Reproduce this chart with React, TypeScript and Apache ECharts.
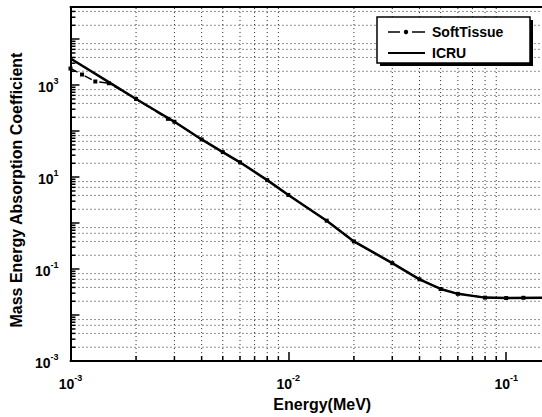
import React, { useEffect, useRef } from "react";
import * as echarts from "echarts";

// ---- data ----
const energyICRU = [0.001, 0.0015, 0.002, 0.003, 0.004, 0.005, 0.006, 0.008, 0.01, 0.015, 0.02, 0.03, 0.04, 0.05, 0.06, 0.08, 0.1, 0.15];
const muICRU = [3800, 1160, 500, 160, 66, 35, 21, 8.6, 4.1, 1.13, 0.4, 0.135, 0.06, 0.037, 0.029, 0.024, 0.0235, 0.024];

const energySoft = [0.001, 0.00113, 0.0013, 0.0015, 0.002, 0.0028, 0.003, 0.004, 0.005, 0.006, 0.008, 0.01, 0.015, 0.02, 0.03, 0.04, 0.05, 0.06, 0.08, 0.1, 0.12, 0.15];
const muSoft = [2300, 1700, 1200, 1100, 500, 185, 160, 66, 35, 21, 8.6, 4.1, 1.13, 0.4, 0.135, 0.06, 0.037, 0.029, 0.024, 0.0235, 0.0238, 0.024];

const seriesNames = ["SoftTissue", "ICRU"];

// axis ranges and tick/grid positions
const X_MIN = 0.001;
const X_MAX = 0.146;
const Y_MIN = 0.001;
const Y_MAX = 50000;
const xDecades = [0.001, 0.01, 0.1];
const yDecades = [0.001, 0.01, 0.1, 1, 10, 100, 1000, 10000];
const xGridMult = [2, 3, 4, 5, 6, 7, 8, 9];
const yGridMult = [2, 4, 6, 8];
const yTickMult = [2, 3, 4, 5, 6, 7, 8, 9];

type Spec = { kind: string; v: number };

function buildSpecs(): Spec[] {
  const specs: Spec[] = [];
  xDecades.forEach((d) =>
    xGridMult.forEach((m) => {
      const v = d * m;
      if (v < X_MAX) {
        specs.push({ kind: "xgrid", v });
        specs.push({ kind: "xtick", v });
      }
    })
  );
  yDecades.forEach((d) => {
    yGridMult.forEach((m) => {
      const v = d * m;
      if (v < Y_MAX) specs.push({ kind: "ygrid", v });
    });
    yTickMult.forEach((m) => {
      const v = d * m;
      if (v < Y_MAX) specs.push({ kind: "ytick", v });
    });
  });
  return specs;
}

const FONT = "Liberation Sans, Arial, sans-serif";

const supRich = {
  b: { fontSize: 14, fontWeight: "bold", fontFamily: FONT, color: "#000", lineHeight: 18, verticalAlign: "bottom" },
  s: { fontSize: 9, fontWeight: "bold", fontFamily: FONT, color: "#000", lineHeight: 18, verticalAlign: "top" },
};

function expOf(v: number) {
  return Math.round(Math.log10(v));
}

const legendText = { fontSize: 14, fontWeight: "bold", fontFamily: FONT, fill: "#000", verticalAlign: "middle", align: "left" };

export default function App() {
  const ref = useRef<HTMLDivElement>(null);
  useEffect(() => {
    if (!ref.current) return;
    const chart = echarts.init(ref.current, undefined, { renderer: "svg" });
    const specs = buildSpecs();
    const option: any = {
      animation: false,
      backgroundColor: "#fff",
      grid: { left: 66, right: 0, top: 7, bottom: 51, show: false },
      legend: { show: false, data: seriesNames },
      graphic: [
        { type: "rect", z: 8, shape: { x: 380, y: 20, width: 153, height: 46 }, style: { fill: "#000" } },
        { type: "rect", z: 9, shape: { x: 377, y: 17, width: 153, height: 46 }, style: { fill: "#fff", stroke: "#000", lineWidth: 1.5 } },
        { type: "line", z: 10, shape: { x1: 388, y1: 32, x2: 400, y2: 32 }, style: { stroke: "#000", lineWidth: 1.5 } },
        { type: "circle", z: 10, shape: { cx: 406, cy: 32, r: 2.2 }, style: { fill: "#000" } },
        { type: "line", z: 10, shape: { x1: 412, y1: 32, x2: 425, y2: 32 }, style: { stroke: "#000", lineWidth: 1.5 } },
        { type: "text", z: 10, x: 432, y: 32, style: { ...legendText, text: seriesNames[0] } },
        { type: "line", z: 10, shape: { x1: 388, y1: 53, x2: 425, y2: 53 }, style: { stroke: "#000", lineWidth: 2 } },
        { type: "text", z: 10, x: 432, y: 53, style: { ...legendText, text: seriesNames[1] } },
      ],
      xAxis: [
        {
          type: "log",
          logBase: 10,
          min: X_MIN,
          max: X_MAX,
          name: "Energy(MeV)",
          nameLocation: "middle",
          nameGap: 30,
          nameTextStyle: { fontSize: 16, fontWeight: "bold", fontFamily: FONT, color: "#000", padding: [0, 0, 0, 32] },
          axisLine: { show: true, lineStyle: { color: "#000", width: 2 } },
          axisTick: { show: true, inside: true, length: 9, lineStyle: { color: "#000", width: 1.5 } },
          splitLine: { show: false },
          axisLabel: {
            margin: 12,
            showMaxLabel: false,
            formatter: (v: number) => `{b|10}{s|${expOf(v)}}`,
            rich: supRich,
          },
        },
        {
          type: "log",
          logBase: 10,
          min: X_MIN,
          max: X_MAX,
          position: "top",
          axisLine: { show: true, lineStyle: { color: "#000", width: 2 } },
          axisTick: { show: false },
          axisLabel: { show: false },
          splitLine: { show: false },
        },
      ],
      yAxis: {
        type: "log",
        logBase: 10,
        min: Y_MIN,
        max: Y_MAX,
        name: "Mass Energy Absorption Coefficient",
        nameLocation: "middle",
        nameGap: 41,
        nameTextStyle: { fontSize: 16, fontWeight: "bold", fontFamily: FONT, color: "#000", padding: [0, 12, 0, 0] },
        axisLine: { show: true, lineStyle: { color: "#000", width: 2 } },
        axisTick: { show: true, inside: true, length: 9, lineStyle: { color: "#000", width: 1.5 } },
        splitLine: { show: false },
        axisLabel: {
          margin: 12,
          showMaxLabel: false,
          formatter: (v: number) => {
            const e = expOf(v);
            if (Math.abs(e) % 2 === 0) return "";
            return `{b|10}{s|${e}}`;
          },
          rich: supRich,
        },
      },
      series: [
        {
          type: "custom",
          silent: true,
          z: 1,
          xAxisIndex: 0,
          clip: false,
          encode: { x: 0, y: 1 },
          data: specs.map((s) => (s.kind[0] === "x" ? [s.v, Y_MIN] : [X_MIN, s.v])),
          renderItem: (params: any, api: any) => {
            const s = specs[params.dataIndex];
            if (s.kind === "xgrid") {
              const a = api.coord([s.v, Y_MIN]);
              const b = api.coord([s.v, Y_MAX]);
              return { type: "line", shape: { x1: a[0], y1: a[1], x2: b[0], y2: b[1] }, style: { stroke: "#222", lineWidth: 1, lineDash: [1, 3] } };
            }
            if (s.kind === "ygrid") {
              const a = api.coord([X_MIN, s.v]);
              const b = api.coord([X_MAX, s.v]);
              return { type: "line", shape: { x1: a[0], y1: a[1], x2: b[0], y2: b[1] }, style: { stroke: "#222", lineWidth: 1, lineDash: [1, 3] } };
            }
            if (s.kind === "xtick") {
              const a = api.coord([s.v, Y_MIN]);
              return { type: "line", shape: { x1: a[0], y1: a[1], x2: a[0], y2: a[1] - 5 }, style: { stroke: "#000", lineWidth: 1.5 } };
            }
            const a = api.coord([X_MIN, s.v]);
            return { type: "line", shape: { x1: a[0], y1: a[1], x2: a[0] + 5, y2: a[1] }, style: { stroke: "#000", lineWidth: 1.5 } };
          },
        },
        {
          name: "SoftTissue",
          type: "line",
          z: 3,
          data: energySoft.map((e, i) => [e, muSoft[i]]),
          symbol: "rect",
          symbolSize: 4,
          showSymbol: true,
          itemStyle: { color: "#000" },
          lineStyle: { color: "#000", width: 1.5, type: [8, 3, 2, 3] },
        },
        {
          name: "ICRU",
          type: "line",
          z: 4,
          data: energyICRU.map((e, i) => [e, muICRU[i]]),
          showSymbol: false,
          symbol: "none",
          itemStyle: { color: "#000" },
          lineStyle: { color: "#000", width: 2.5 },
        },
      ],
    };
    chart.setOption(option);
    return () => chart.dispose();
  }, []);
  return <div ref={ref} style={{ position: "fixed", left: 0, top: 0, width: 542, height: 417 }} />;
}
